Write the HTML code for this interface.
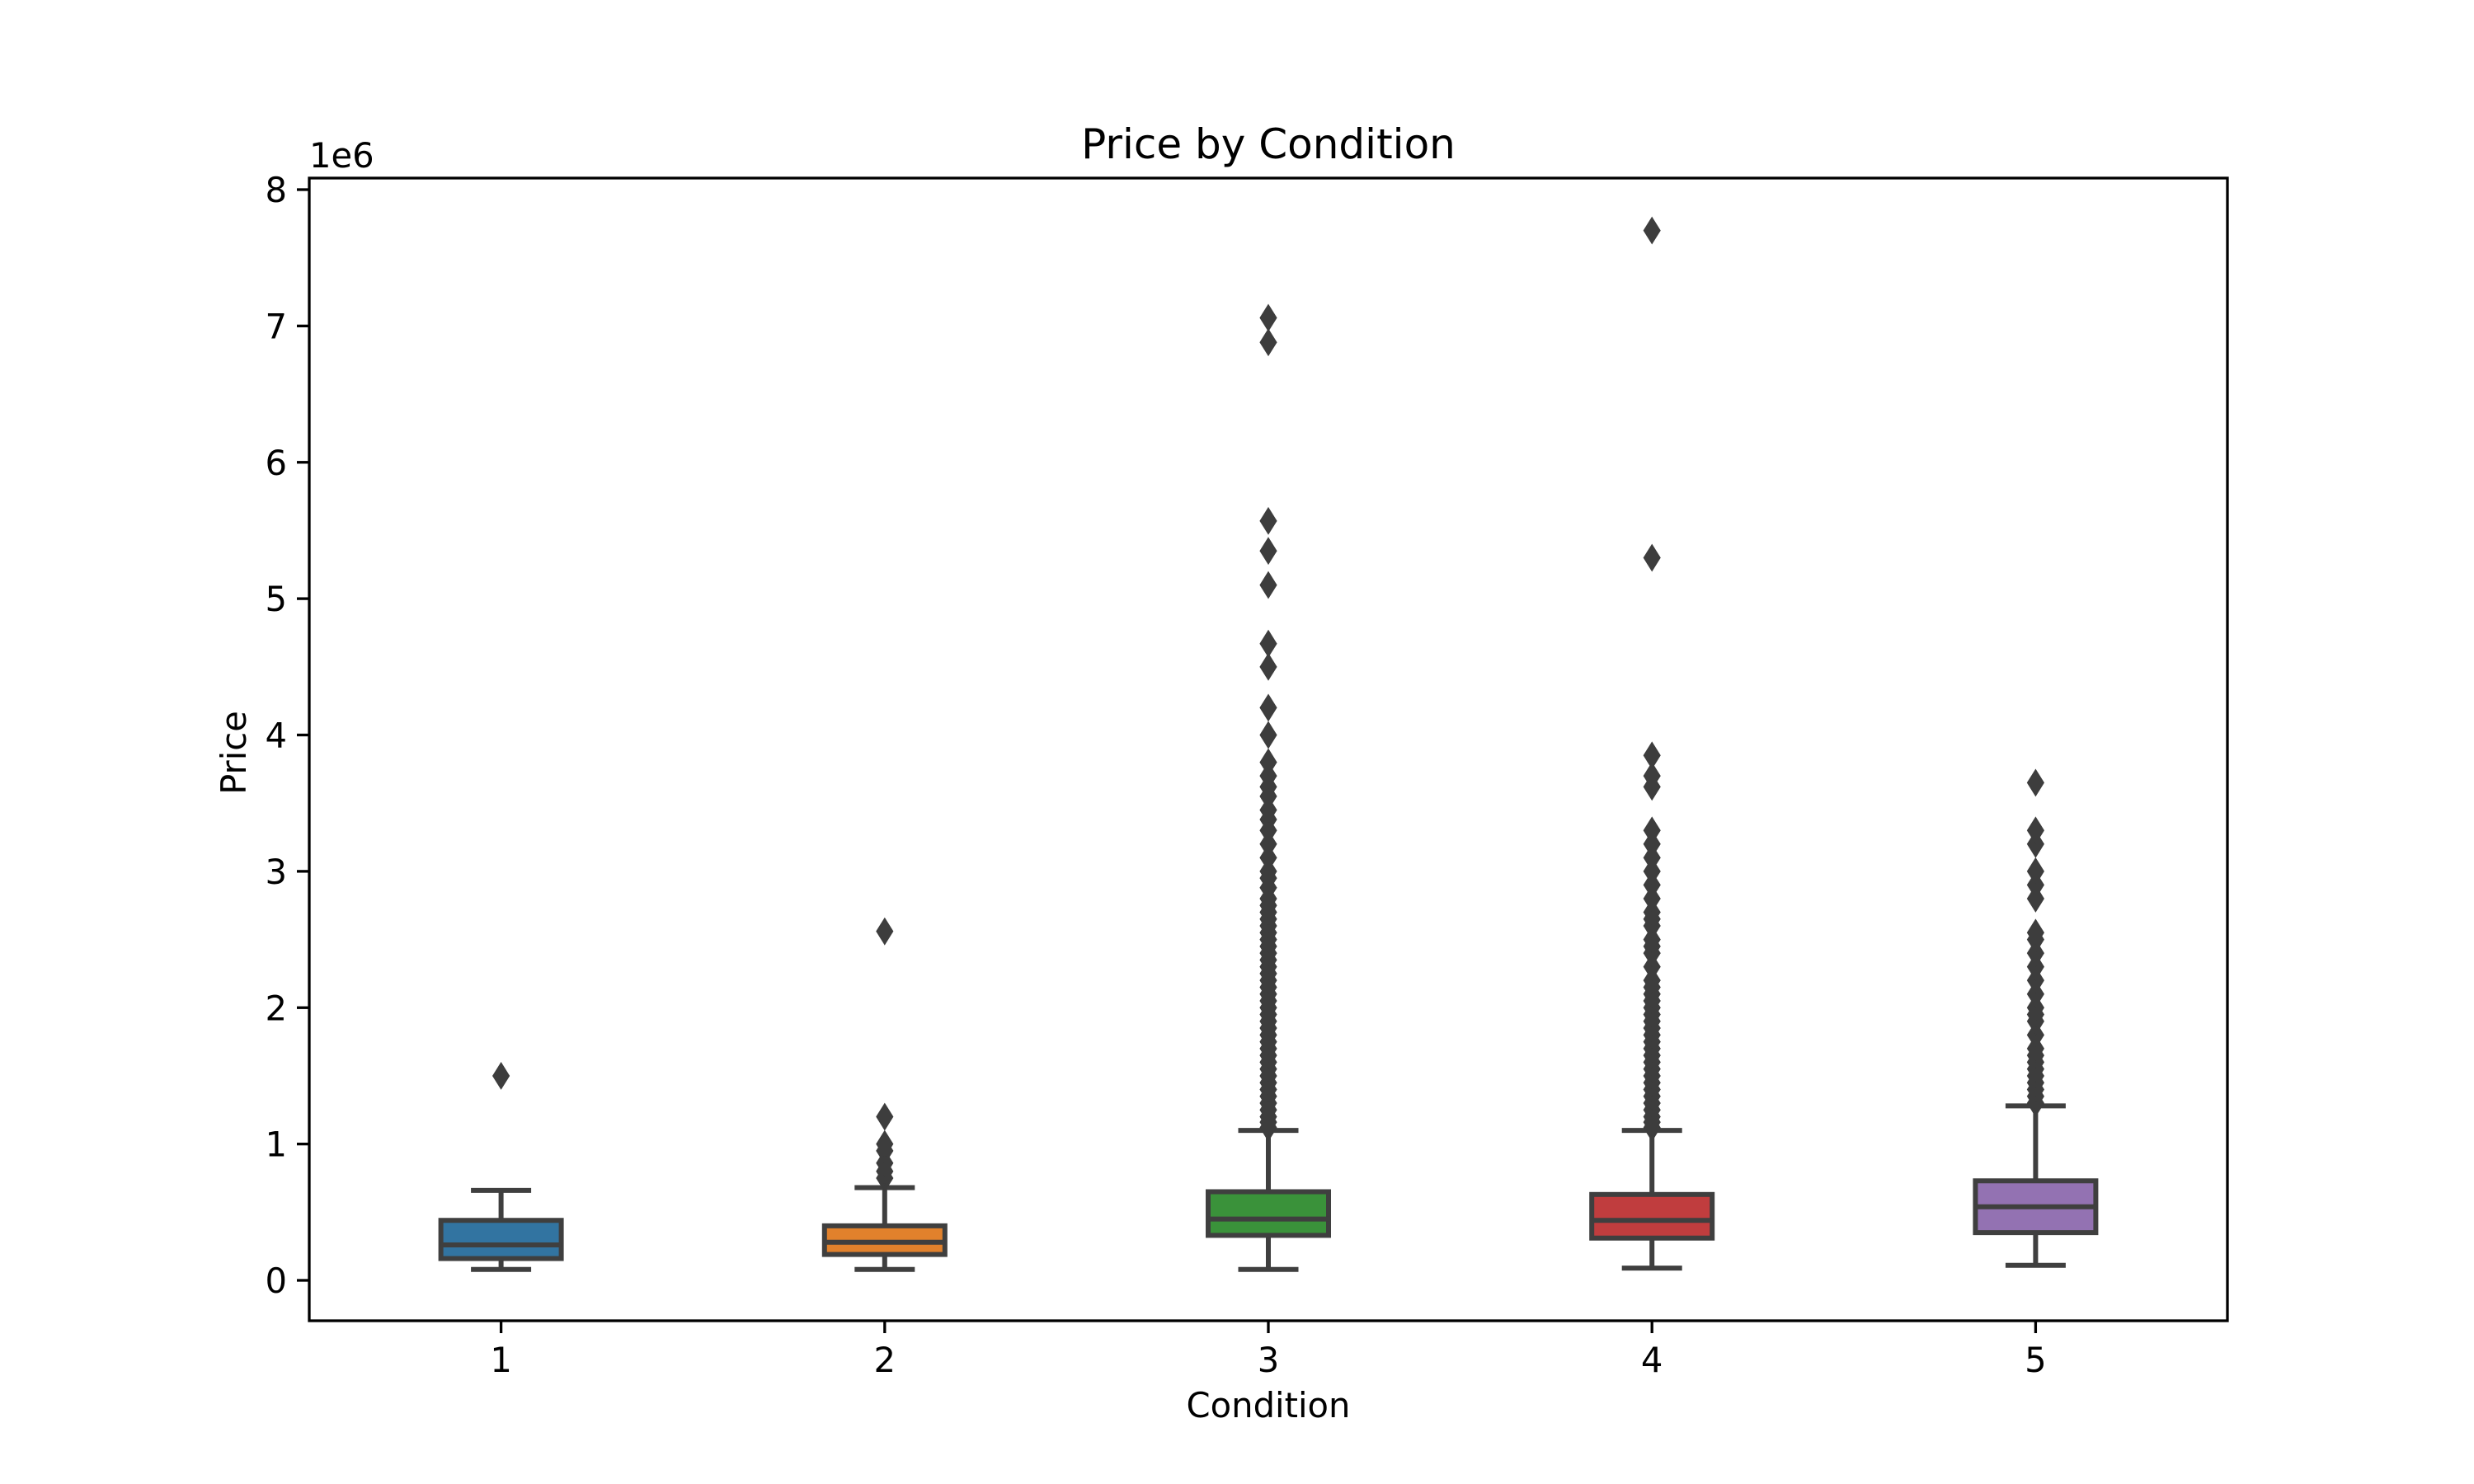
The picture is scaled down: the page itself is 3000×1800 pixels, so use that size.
<!DOCTYPE html>
<html><head><meta charset="utf-8"><style>
html,body{margin:0;padding:0;background:#fff;}
svg{display:block;font-family:"DejaVu Sans","Liberation Sans",sans-serif;}
</style></head><body>
<svg id="chart" width="3000" height="1800" viewBox="0 0 3000 1800" xmlns="http://www.w3.org/2000/svg">
<rect width="3000" height="1800" fill="#fff"/>
<g id="plot"></g>
<text x="1538" y="192" font-size="50" text-anchor="middle" fill="#000">Price by Condition</text>
<text x="1538" y="1719" font-size="41.7" text-anchor="middle" fill="#000">Condition</text>
<text transform="translate(298,913) rotate(-90)" font-size="41.7" text-anchor="middle" fill="#000">Price</text>
<text x="375" y="203" font-size="41.7" fill="#000">1e6</text>
</svg>
<script>
const categories = ["1","2","3","4","5"];
const whiskerLow = [0.08,0.08,0.08,0.09,0.11];
const q1 = [0.16,0.19,0.33,0.31,0.35];
const medians = [0.26,0.28,0.45,0.44,0.54];
const q3 = [0.44,0.40,0.65,0.63,0.73];
const whiskerHigh = [0.66,0.68,1.10,1.10,1.28];
const fliers1 = [1.50];
const fliers2 = [0.75,0.80,0.86,0.95,1.00,1.20,2.56];
const fliers3 = [1.12,1.16,1.2,1.25,1.3,1.35,1.4,1.45,1.5,1.55,1.6,1.65,1.7,1.75,1.8,1.85,1.9,1.95,2.0,2.05,2.1,2.15,2.2,2.25,2.3,2.35,2.4,2.45,2.5,2.55,2.6,2.65,2.7,2.75,2.8,2.88,2.95,3.0,3.1,3.2,3.3,3.38,3.45,3.55,3.62,3.7,3.8,4.0,4.2,4.5,4.67,5.1,5.35,5.57,6.88,7.06];
const fliers4 = [1.12,1.16,1.2,1.25,1.3,1.35,1.4,1.45,1.5,1.55,1.6,1.65,1.7,1.75,1.8,1.85,1.9,1.95,2.0,2.05,2.1,2.15,2.2,2.3,2.4,2.45,2.5,2.6,2.65,2.7,2.8,2.9,3.0,3.1,3.2,3.3,3.62,3.7,3.85,5.3,7.7];
const fliers5 = [1.3,1.35,1.4,1.45,1.5,1.55,1.6,1.65,1.7,1.8,1.9,1.95,2.0,2.1,2.2,2.3,2.4,2.5,2.55,2.8,2.9,3.0,3.2,3.3,3.65];
const fliers = [fliers1,fliers2,fliers3,fliers4,fliers5];
const yTicks = [0,1,2,3,4,5,6,7,8];
const colors = ["#3274a1","#e1812c","#3a923a","#c03d3e","#9372b2"];

const L=375,R=2701,T=216,B=1602;
const y0px=1553, y8px=230;
const yScale=v=>y0px+(y8px-y0px)*v/8;
const xScale=i=>L+(R-L)*(i+0.5)/categories.length;
const ns="http://www.w3.org/2000/svg";
const plot=document.getElementById('plot');
function mk(tag,attrs,parent){const e=document.createElementNS(ns,tag);for(const k in attrs)e.setAttribute(k,attrs[k]);(parent||plot).appendChild(e);return e;}
const lc="#3f3f3f", lw=6, bw=146;

categories.forEach((c,i)=>{
  const cx=xScale(i);
  const g=mk('g',{});
  
  
  const w1=mk('line',{x1:cx,x2:cx,y1:yScale(q1[i]),y2:yScale(whiskerLow[i]),stroke:lc,'stroke-width':lw},g);
  
  
  const w2=mk('line',{x1:cx,x2:cx,y1:yScale(q3[i]),y2:yScale(whiskerHigh[i]),stroke:lc,'stroke-width':lw},g);
  
  
  [whiskerLow[i],whiskerHigh[i]].forEach(v=>{
    const cap=mk('line',{x1:cx-bw/4,x2:cx+bw/4,y1:yScale(v),y2:yScale(v),stroke:lc,'stroke-width':lw},g);
    
    
  });
  const box=mk('rect',{x:cx-bw/2,y:yScale(q3[i]),width:bw,height:yScale(q1[i])-yScale(q3[i]),fill:colors[i],stroke:lc,'stroke-width':lw},g);
  
  
  const med=mk('line',{x1:cx-bw/2,x2:cx+bw/2,y1:yScale(medians[i]),y2:yScale(medians[i]),stroke:lc,'stroke-width':lw},g);
  
  
  fliers[i].forEach(v=>{
    const y=yScale(v);
    const d=mk('polygon',{points:`${cx},${y-16} ${cx+10},${y} ${cx},${y+16} ${cx-10},${y}`,fill:"#3d3d3d",stroke:"#3d3d3d",'stroke-width':1},g);
    
    
  });
  const t=mk('line',{x1:cx,x2:cx,y1:B,y2:B+15,stroke:'#000','stroke-width':3.3});
  
  
  const tl=mk('text',{x:cx,y:B+62,'font-size':41.7,'text-anchor':'middle',fill:'#000'});
  tl.textContent=c;
  
  
});
yTicks.forEach(v=>{
  const y=yScale(v);
  const t=mk('line',{x1:L-15,x2:L,y1:y,y2:y,stroke:'#000','stroke-width':3.3});
  
  
  const tl=mk('text',{x:L-27,y:y+15,'font-size':41.7,'text-anchor':'end',fill:'#000'});
  tl.textContent=v;
  
  
});
const frame=mk('rect',{x:L,y:T,width:R-L,height:B-T,fill:'none',stroke:'#000','stroke-width':3.3});


</script>
</body></html>
